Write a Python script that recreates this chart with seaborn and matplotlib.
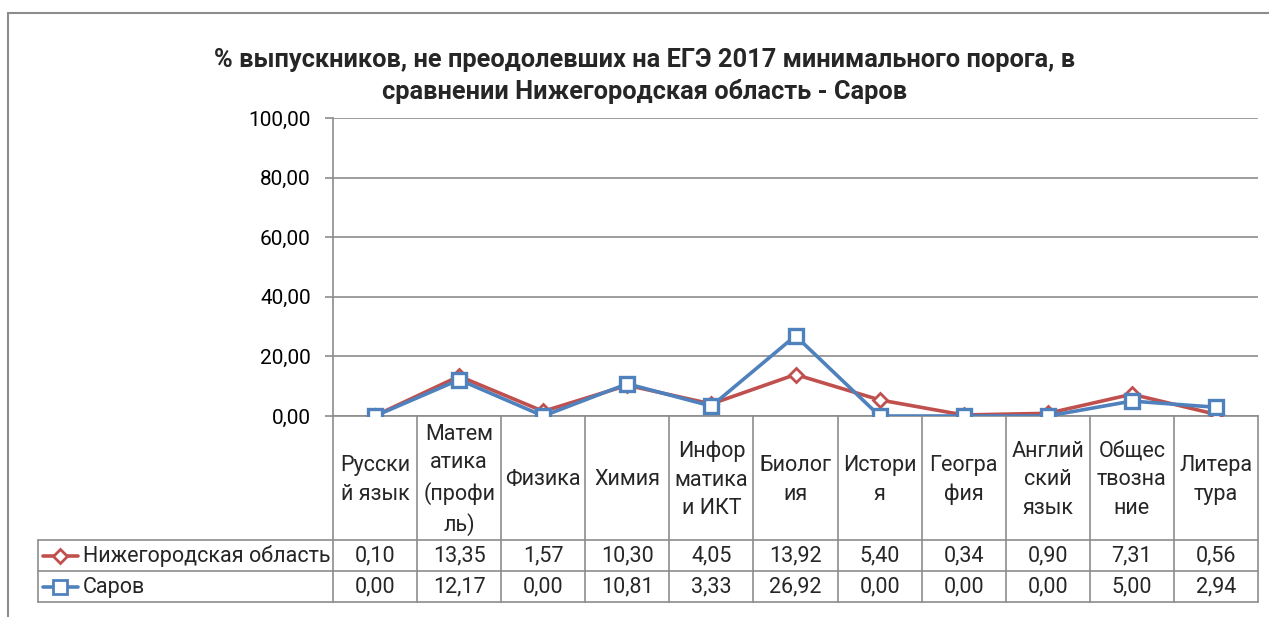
"""ЕГЭ 2017: доля выпускников ниже минимального порога, Нижегородская область и Саров."""

import matplotlib
matplotlib.use("Agg")
import matplotlib.pyplot as plt
from matplotlib.lines import Line2D
from matplotlib.ticker import FuncFormatter, MultipleLocator
import pandas as pd
import seaborn as sns

subjects = [
    "Русски\nй язык", "Матем\nатика\n(профи\nль)", "Физика", "Химия",
    "Инфор\nматика\nи ИКТ", "Биолог\nия", "Истори\nя", "Геогра\nфия",
    "Англий\nский\nязык", "Общес\nтвозна\nние", "Литера\nтура",
]
nizhny = [0.10, 13.35, 1.57, 10.30, 4.05, 13.92, 5.40, 0.34, 0.90, 7.31, 0.56]
sarov = [0.00, 12.17, 0.00, 10.81, 3.33, 26.92, 0.00, 0.00, 0.00, 5.00, 2.94]
series_names = ["Нижегородская область", "Саров"]
title = ("% выпускников, не преодолевших на ЕГЭ 2017 минимального порога, в\n"
         "сравнении Нижегородская область - Саров")

RED = "#C0504D"
BLUE = "#4F81BD"
GRID = "#8C8C8C"


def fmt(v):
    return f"{v:.2f}".replace(".", ",")


def main() -> None:
    sns.set_style("white")
    plt.rcParams["font.family"] = ["Roboto", "DejaVu Sans"]

    W, H = 1269, 617
    fig = plt.figure(figsize=(W / 100, H / 100), dpi=100)

    x0, x1 = 333, 1258
    ax = fig.add_axes([x0 / W, 1 - 416 / H, (x1 - x0) / W, 298 / H])
    tab = fig.add_axes([x0 / W, 1 - 602 / H, (x1 - x0) / W, 186 / H])

    df = pd.DataFrame({"idx": range(len(subjects)), "nizhny": nizhny, "sarov": sarov})

    sns.lineplot(data=df, x="idx", y="nizhny", ax=ax, color=RED, lw=2.6,
                 marker="D", markersize=7.5, markerfacecolor="white",
                 markeredgecolor=RED, markeredgewidth=2, zorder=3)
    sns.lineplot(data=df, x="idx", y="sarov", ax=ax, color=BLUE, lw=2.6,
                 marker="s", markersize=10.5, markerfacecolor="white",
                 markeredgecolor=BLUE, markeredgewidth=2.4, zorder=4)

    ax.set_xlim(-0.5, len(subjects) - 0.5)
    ax.set_ylim(0, 100)
    ax.yaxis.set_major_locator(MultipleLocator(20))
    ax.yaxis.set_major_formatter(FuncFormatter(lambda v, p: fmt(v)))
    ax.set_xticks([])
    ax.set_xlabel("")
    ax.set_ylabel("")
    ax.grid(axis="y", color=GRID, lw=1.2)
    ax.tick_params(axis="y", left=True, length=6, width=1.2, color=GRID,
                   labelsize=15, colors="black", pad=10)
    for side in ["top", "right"]:
        ax.spines[side].set_visible(False)
    for side in ["left", "bottom"]:
        ax.spines[side].set_color(GRID)
        ax.spines[side].set_linewidth(1.2)
    for sp in ax.spines.values():
        sp.set_zorder(1)
    ax.patch.set_alpha(0)

    # data table under the plot
    n = len(subjects)
    tab.set_xlim(-0.5, n - 0.5)
    tab.set_ylim(186, 0)
    tab.axis("off")
    left_edge = -0.5 - (x0 - 38) / ((x1 - x0) / n)
    kw = dict(color=GRID, lw=1.2, clip_on=False)
    for k in range(n + 1):
        tab.plot([k - 0.5, k - 0.5], [0, 186], **kw)
    tab.plot([left_edge, left_edge], [124, 186], **kw)
    for yy in [124, 155, 186]:
        tab.plot([left_edge, n - 0.5], [yy, yy], **kw)

    fs = 15.5
    for k, name in enumerate(subjects):
        tab.text(k, 64, name, ha="center", va="center", fontsize=fs,
                 linespacing=1.48)
        tab.text(k, 140, fmt(nizhny[k]), ha="center", va="center", fontsize=fs)
        tab.text(k, 171, fmt(sarov[k]), ha="center", va="center", fontsize=fs)

    px = (x1 - x0) / n
    to_x = lambda p: -0.5 + (p - x0) / px
    for yy, name, col, mk, ms in [(140, series_names[0], RED, "D", 7),
                                  (171, series_names[1], BLUE, "s", 9.5)]:
        tab.plot([to_x(43), to_x(78)], [yy, yy], color=col, lw=2.6, clip_on=False)
        tab.plot([to_x(60)], [yy], marker=mk, markersize=ms, markerfacecolor="white",
                 markeredgecolor=col, markeredgewidth=2, clip_on=False)
        tab.text(to_x(83), yy, name, ha="left", va="center", fontsize=fs)

    fig.text(645 / W, 1 - 76 / H, title, ha="center", va="center",
             fontsize=18.3, fontweight="bold", linespacing=1.39)

    # chart frame
    fig.add_artist(Line2D([8 / W, 8 / W], [0, 1 - 13 / H], color="#8C8C8C", lw=1.5))
    fig.add_artist(Line2D([8 / W, 1], [1 - 13 / H, 1 - 13 / H], color="#8C8C8C", lw=1.5))

    fig.savefig("out.png", dpi=100)


if __name__ == "__main__":
    main()
